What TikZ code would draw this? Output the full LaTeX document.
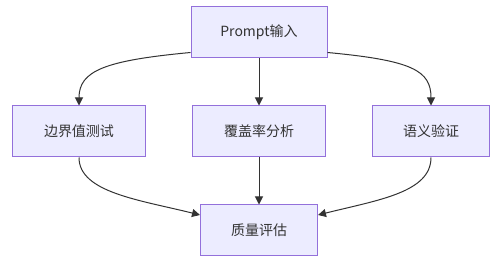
\documentclass[tikz,border=0pt]{standalone}
\usepackage{fontspec}
\setmainfont{Noto Sans CJK SC}
\usepackage{tikz}
\usetikzlibrary{positioning,arrows.meta}
\definecolor{MMFill}{HTML}{ECECFF}
\definecolor{MMLine}{HTML}{9370DB}
\definecolor{MMText}{HTML}{333333}

\begin{document}
\begin{tikzpicture}[
  x=1pt, y=1pt,
  node distance=47pt and 46pt,
  box/.style={draw=MMLine, fill=MMFill, line width=1pt, minimum height=51pt, inner xsep=20pt, align=center, text=MMText, font=\fontsize{14pt}{16pt}\selectfont},
  arrow/.style={-{Triangle[length=8pt,width=8pt]}, line width=1pt, MMText}
]
\useasboundingbox (0,0) rectangle (504,262);
\node[box, minimum width=136pt] (prompt) at (259,229.5) {Prompt输入};
\node[box, minimum width=133pt, below=of prompt] (coverage) {覆盖率分析};
\node[box, minimum width=133pt, left=of coverage] (boundary) {边界值测试};
\node[box, minimum width=117pt, right=of coverage] (semantic) {语义验证};
\node[box, minimum width=117pt, below=of coverage] (quality) {质量评估};
\draw[arrow] ([yshift=6pt]prompt.south west) .. controls +(-85,-8) and +(0,35) .. (boundary.north);
\draw[arrow] (prompt) -- (coverage);
\draw[arrow] ([yshift=6pt]prompt.south east) .. controls +(85,-8) and +(0,35) .. (semantic.north);
\draw[arrow] (boundary.south) .. controls +(0,-35) and +(-60,15) .. ([yshift=15.5pt]quality.west);
\draw[arrow] (coverage) -- (quality);
\draw[arrow] (semantic.south) .. controls +(0,-35) and +(60,15) .. ([yshift=15.5pt]quality.east);
\end{tikzpicture}
\end{document}
